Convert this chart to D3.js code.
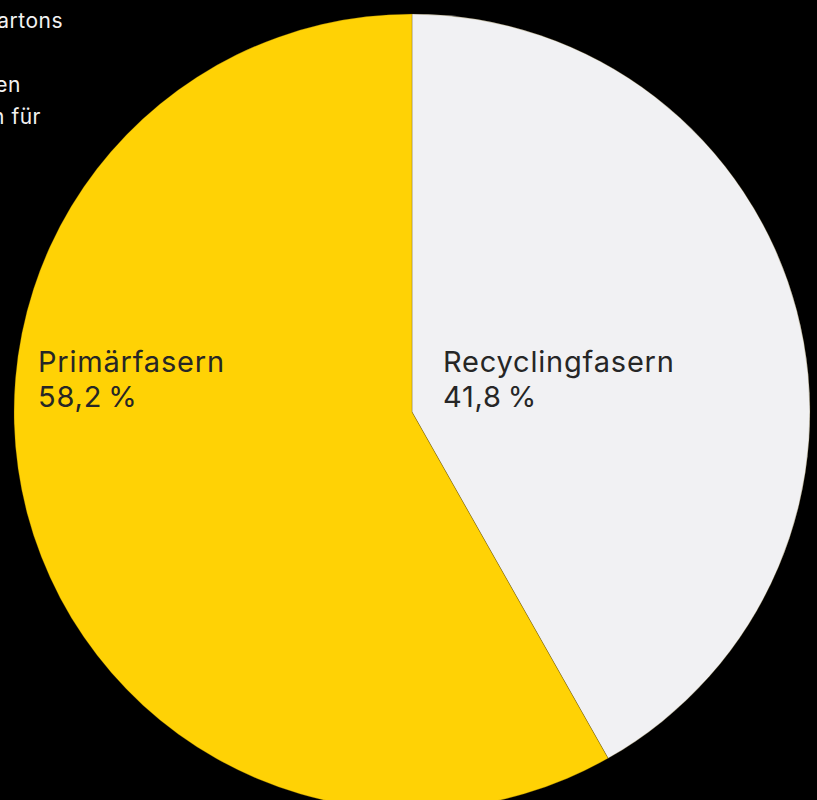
<!DOCTYPE html>
<html>
<head>
<meta charset="utf-8">
<script src="https://cdn.jsdelivr.net/npm/d3@7"></script>
<style>
  html, body { margin: 0; padding: 0; background: #000; }
  svg { display: block; }
</style>
</head>
<body>
<script>
// Fibre composition shares (percent)
const categories = ["Recyclingfasern", "Primärfasern"];
const shares = [41.8, 58.2];
const colors = ["#F1F1F3", "#FFD205"];
const introLines = [
  "Faserzusammensetzung des Kartons",
  "",
  "Anteile der Papierfasern, die beim Herstellen",
  "von Getränkekartons verwendet werden für"
];

const width = 817, height = 800;
const cx = 412, cy = 412, radius = 398;

const svg = d3.select("body").append("svg")
  .attr("width", width).attr("height", height);

svg.append("rect").attr("width", width).attr("height", height).attr("fill", "#000");

const data = categories.map((c, i) => ({ name: c, value: shares[i], color: colors[i] }));

const pie = d3.pie().value(d => d.value).sort(null);
const arc = d3.arc().innerRadius(0).outerRadius(radius);
const arcs = pie(data);

const g = svg.append("g").attr("transform", `translate(${cx},${cy})`);

g.selectAll("path").data(arcs).join("path")
  .attr("d", arc)
  .attr("fill", d => d.data.color)
  .attr("stroke", "rgba(90,70,0,0.35)")
  .attr("stroke-width", 0.8);

// Slice labels: name and share on two lines
const fmt = v => d3.format(".1f")(v).replace(".", ",") + "\u202F%";
const labelPos = [
  { x: cx + 31, y: 372 },
  { x: cx - radius + 24, y: 372 }
];

arcs.forEach((a, i) => {
  const t = svg.append("text")
    .attr("x", labelPos[i].x).attr("y", labelPos[i].y)
    .attr("font-family", "Inter, 'Noto Sans', sans-serif")
    .attr("font-size", 29)
    .attr("letter-spacing", 0.8)
    .attr("fill", "#262626");
  t.append("tspan").attr("x", labelPos[i].x).attr("dy", 0).text(a.data.name);
  t.append("tspan").attr("x", labelPos[i].x).attr("dy", 35).text(fmt(a.data.value));
});

// Introductory text block, running off the left edge
const intro = svg.append("text")
  .attr("font-family", "Inter, 'Noto Sans', sans-serif")
  .attr("font-size", 21)
  .attr("letter-spacing", 0.5)
  .attr("fill", "#f2f2f2")
  .attr("text-anchor", "end");
const introEnds = [63, 0, 21, 41];
introLines.forEach((line, i) => {
  intro.append("tspan").attr("x", introEnds[i]).attr("y", 28 + i * 32).text(line);
});
</script>
</body>
</html>
